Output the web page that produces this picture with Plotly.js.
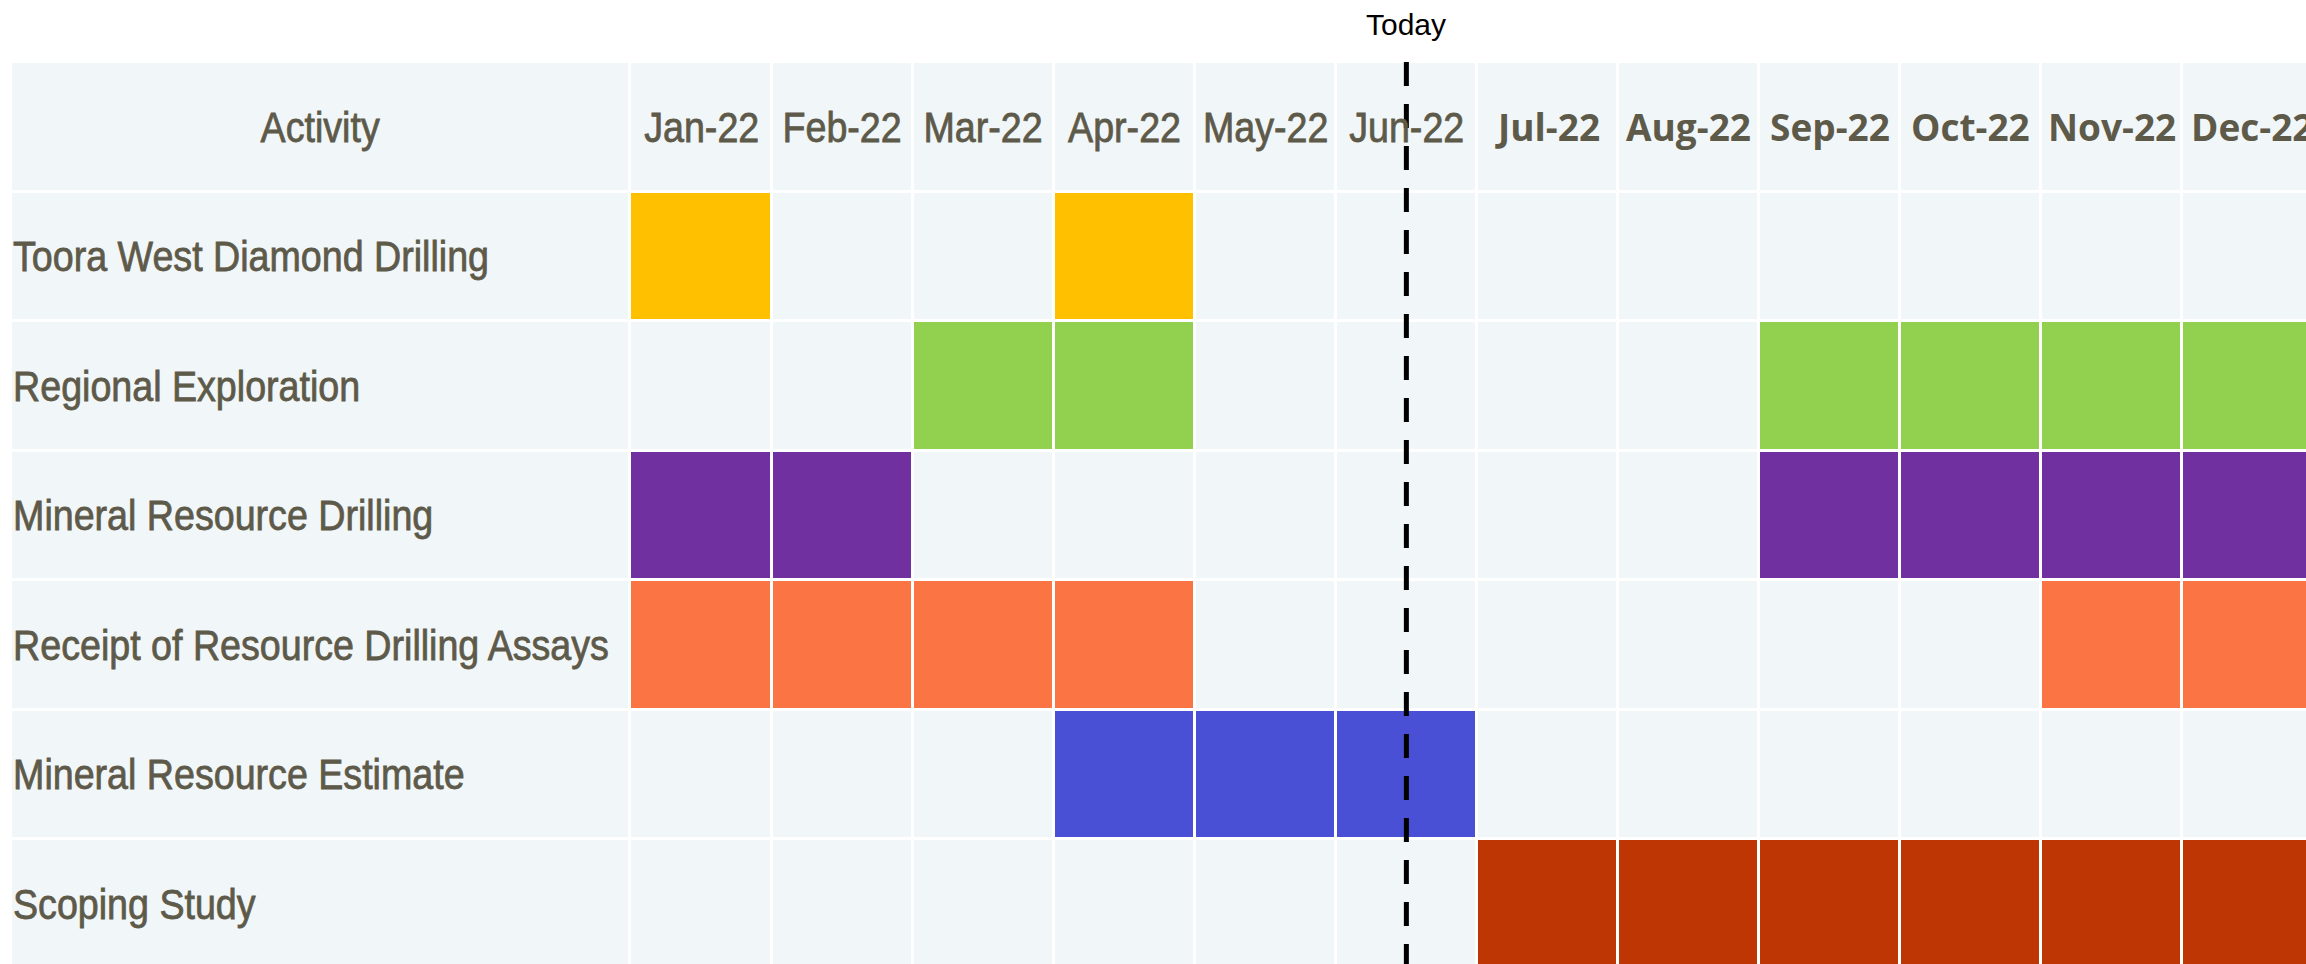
<!DOCTYPE html>
<html>
<head>
<meta charset="utf-8">
<script src="https://cdn.plot.ly/plotly-3.0.1.min.js"></script>
<style>
  html, body { margin: 0; padding: 0; background: #ffffff; }
  #chart { width: 2306px; height: 964px; }
</style>
</head>
<body>
<div id="chart"></div>
<script>
// ---------- data ----------
const activities = [
  'Toora West Diamond Drilling',
  'Regional Exploration',
  'Mineral Resource Drilling',
  'Receipt of Resource Drilling Assays',
  'Mineral Resource Estimate',
  'Scoping Study'
];
const months = ['Jan-22','Feb-22','Mar-22','Apr-22','May-22','Jun-22',
                'Jul-22','Aug-22','Sep-22','Oct-22','Nov-22','Dec-22'];
// 1 = month in which the activity is scheduled
const tooraWest      = [1,0,0,1,0,0,0,0,0,0,0,0];
const regionalExpl   = [0,0,1,1,0,0,0,0,1,1,1,1];
const resourceDrill  = [1,1,0,0,0,0,0,0,1,1,1,1];
const drillAssays    = [1,1,1,1,0,0,0,0,0,0,1,1];
const resourceEst    = [0,0,0,1,1,1,0,0,0,0,0,0];
const scopingStudy   = [0,0,0,0,0,0,1,1,1,1,1,1];
const schedule = [tooraWest, regionalExpl, resourceDrill, drillAssays, resourceEst, scopingStudy];
// months shown in bold in the header (upcoming months)
const upcomingMonth = [0,0,0,0,0,0,1,1,1,1,1,1];
const todayMonth = 'Jun-22';
const todayLabel = 'Today';
const headerLabel = 'Activity';

// ---------- styling ----------
const emptyColor = '#F1F6F9';
const activityColors = ['#FFC000','#92D050','#7030A0','#FB7444','#4A50D5','#BD3604'];
const textColor = '#5E5A4A';
const narrowFont = '"Liberation Sans", Arial, sans-serif';
const narrowScale = 0.875;
const boldFont = '"Open Sans", "Noto Sans", sans-serif';
const actColWidth = 4.391;        // width of the activity column, in month units
const xRightEdge = 11.877;        // visible part of the month columns
const yBottomEdge = 6.463;

// ---------- build grid ----------
const nRows = activities.length + 1;          // header + activities
const xEdges = [-actColWidth].concat(months.map((m, i) => i)).concat([months.length]);
const yEdges = [];
for (let r = 0; r <= nRows; r++) yEdges.push(r - 0.5);

const z = [];
for (let r = 0; r < nRows; r++) {
  const row = [0];                              // activity label column
  for (let c = 0; c < months.length; c++) {
    if (r === 0) row.push(0);
    else row.push(schedule[r - 1][c] ? r : 0);
  }
  z.push(row);
}

const palette = [emptyColor].concat(activityColors);
const colorscale = [];
palette.forEach((col, k) => {
  colorscale.push([k / palette.length, col]);
  colorscale.push([(k + 1) / palette.length, col]);
});

const grid = {
  type: 'heatmap',
  x: xEdges,
  y: yEdges,
  z: z,
  zmin: -0.5,
  zmax: palette.length - 0.5,
  colorscale: colorscale,
  showscale: false,
  xgap: 3,
  ygap: 3,
  hoverinfo: 'skip'
};

const todayX = months.indexOf(todayMonth) + 0.5;
const todayLine = {
  type: 'scatter',
  mode: 'lines',
  x: [todayX, todayX],
  y: [-0.5, nRows - 0.5],
  line: { color: '#000000', width: 5, dash: '24px,18px' },
  hoverinfo: 'skip',
  showlegend: false
};

const annotations = [];
const narrowInfo = [];   // per annotation: null or transform origin
annotations.push({
  x: -actColWidth / 2, y: 0, xref: 'x', yref: 'y',
  text: headerLabel, showarrow: false, xanchor: 'center', yanchor: 'middle',
  font: { family: narrowFont, size: 43, color: textColor }
});
narrowInfo.push('center center');
months.forEach((m, i) => {
  annotations.push({
    x: i + 0.5, y: 0, xref: 'x', yref: 'y',
    text: upcomingMonth[i] ? '<b>' + m + '</b>' : m,
    showarrow: false, xanchor: 'center', yanchor: 'middle',
    font: upcomingMonth[i]
      ? { family: boldFont, size: 37, color: textColor }
      : { family: narrowFont, size: 43, color: textColor }
  });
  narrowInfo.push(upcomingMonth[i] ? null : 'center center');
});
activities.forEach((a, i) => {
  annotations.push({
    x: -actColWidth, y: i + 1, xref: 'x', yref: 'y',
    text: a, showarrow: false, xanchor: 'left', yanchor: 'middle',
    font: { family: narrowFont, size: 43, color: textColor }
  });
  narrowInfo.push('left center');
});
annotations.push({
  x: todayX, y: 1, xref: 'x', yref: 'paper',
  text: todayLabel, showarrow: false, xanchor: 'center', yanchor: 'bottom',
  yshift: 19,
  font: { family: '"Liberation Sans", Arial, sans-serif', size: 30, color: '#000000' }
});
narrowInfo.push(null);

const layout = {
  width: 2306,
  height: 964,
  margin: { l: 10.5, r: 0, t: 61.7, b: 0, pad: 0 },
  paper_bgcolor: '#ffffff',
  plot_bgcolor: '#ffffff',
  showlegend: false,
  xaxis: { range: [-actColWidth, xRightEdge], visible: false, fixedrange: true },
  yaxis: { range: [yBottomEdge, -0.5], visible: false, fixedrange: true },
  annotations: annotations
};

Plotly.newPlot('chart', [grid, todayLine], layout, { displayModeBar: false, staticPlot: true })
  .then(function (gd) {
    // condensed, slightly heavier look for the label font
    gd.querySelectorAll('g.annotation').forEach(function (g) {
      const idx = +g.getAttribute('data-index');
      const origin = narrowInfo[idx];
      if (!origin) return;
      const t = g.querySelector('text.annotation-text');
      if (!t) return;
      t.style.transformBox = 'fill-box';
      t.style.transformOrigin = origin;
      t.style.transform = 'scaleX(' + narrowScale + ')';
      t.style.stroke = textColor;
      t.style.strokeWidth = '0.8px';
    });
  });
</script>
</body>
</html>
